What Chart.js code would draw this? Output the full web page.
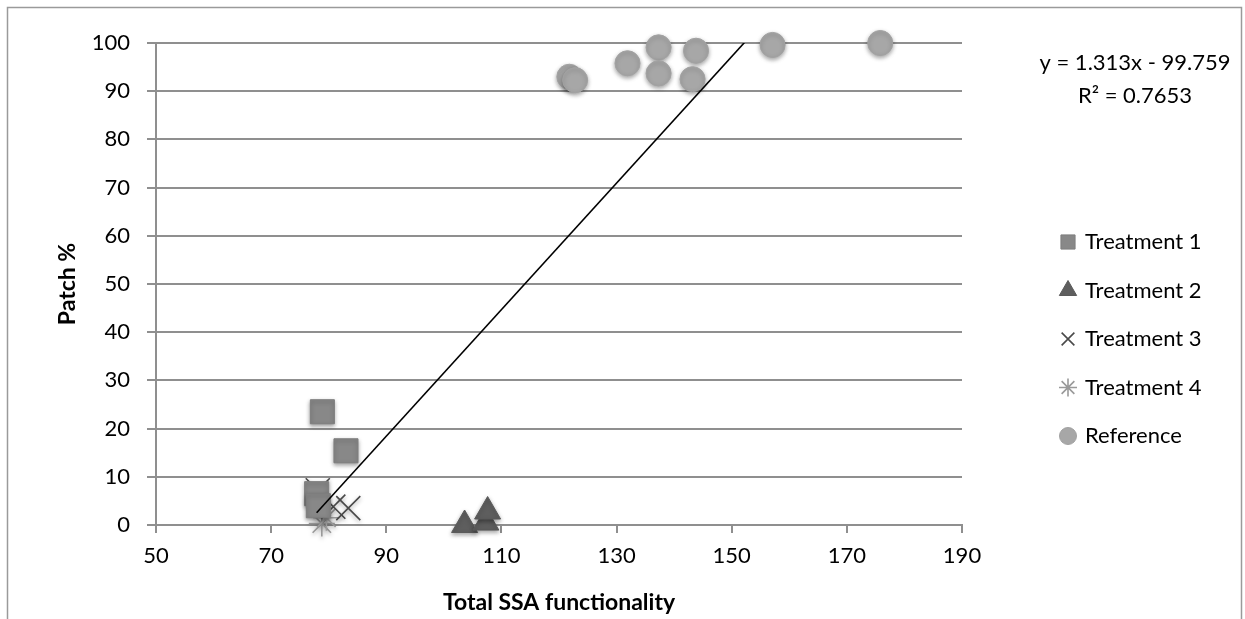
<!DOCTYPE html>
<html>
<head>
<meta charset="utf-8">
<script src="https://cdn.jsdelivr.net/npm/chart.js@4.4.1/dist/chart.umd.min.js"></script>
<style>
  html, body { margin: 0; padding: 0; background: #fff; }
  #wrap { width: 1245px; height: 619px; }
</style>
</head>
<body>
<div id="wrap"><canvas id="ssaChart" width="1245" height="619"></canvas></div>
<script>
// values
const seriesNames = ['Treatment 1', 'Treatment 2', 'Treatment 3', 'Treatment 4', 'Reference'];
const t1Ssa = [78.9, 83.0, 77.9, 78.2];
const t1Patch = [23.5, 15.4, 6.5, 4.0];
const t2Ssa = [103.6, 107.3, 107.6];
const t2Patch = [0.0, 0.5, 2.8];
const t3Ssa = [78.1, 80.8, 83.4];
const t3Patch = [7.2, 3.8, 3.5];
const t4Ssa = [78.8, 79.6];
const t4Patch = [0.3, 1.5];
const refSsa = [121.8, 122.8, 131.9, 137.3, 137.3, 143.8, 143.2, 157.1, 175.8];
const refPatch = [93.0, 92.3, 95.8, 99.1, 93.7, 98.4, 92.5, 99.6, 100.0];

const xTickMin = 50, xTickMax = 190, xTickStep = 20;
const yTickMin = 0, yTickMax = 100, yTickStep = 10;

// linear trendline as printed on the chart
const trendSlope = 1.313;
const trendIntercept = -99.759;
const trendText = ['y = 1.313x - 99.759', 'R\u00b2 = 0.7653'];

function pairs(xs, ys) {
    return xs.map(function(x, i) { return { x: x, y: ys[i] }; });
}

const allSsa = t1Ssa.concat(t2Ssa, t3Ssa, t4Ssa, refSsa);
const trendFrom = Math.min.apply(null, allSsa);
const trendTo = Math.max.apply(null, allSsa);

const gridGray = '#8f8f8f';
const fontFamily = 'Lato, "Open Sans", sans-serif';
const textSize = 22;

Chart.defaults.font.family = fontFamily;
Chart.defaults.font.size = textSize;
Chart.defaults.color = '#000';

// soft drop shadow under the markers, like the office look
const shadowPlugin = {
    id: 'markerShadow',
    beforeDatasetDraw(chart, args) {
        if (chart.data.datasets[args.index].isTrend) return;
        const ctx = chart.ctx;
        ctx.save();
        ctx.shadowColor = 'rgba(0,0,0,0.35)';
        ctx.shadowBlur = 4;
        ctx.shadowOffsetY = 2;
    },
    afterDatasetDraw(chart, args) {
        if (chart.data.datasets[args.index].isTrend) return;
        chart.ctx.restore();
    }
};

// frame, legend and trendline equation
const sidePlugin = {
    id: 'sideStuff',
    beforeDraw(chart) {
        const ctx = chart.ctx;
        ctx.save();
        ctx.fillStyle = '#fff';
        ctx.fillRect(0, 0, chart.width, chart.height);
        ctx.restore();
    },
    afterDraw(chart) {
        const ctx = chart.ctx;
        ctx.save();
        ctx.strokeStyle = '#9a9a9a';
        ctx.lineWidth = 1.5;
        ctx.strokeRect(7.5, 7.5, 1234, 700);

        ctx.font = textSize + 'px ' + fontFamily;
        ctx.fillStyle = '#000';
        ctx.textAlign = 'center';
        ctx.textBaseline = 'middle';
        ctx.fillText(trendText[0], 1135, 63);
        ctx.fillText(trendText[1], 1135, 96);

        const iconSize = { rect: 10, triangle: 10, crossRot: 9, star: 9, circle: 8.5 };
        let y = 242;
        chart.data.datasets.forEach(function(ds) {
            if (ds.isTrend) return;
            ctx.fillStyle = ds.backgroundColor;
            ctx.strokeStyle = ds.borderColor;
            ctx.lineWidth = ds.borderWidth;
            Chart.helpers.drawPoint(ctx, {
                pointStyle: ds.pointStyle,
                radius: iconSize[ds.pointStyle],
                rotation: 0,
                borderWidth: ds.borderWidth
            }, 1068, y);
            ctx.fillStyle = '#000';
            ctx.textAlign = 'left';
            ctx.fillText(ds.label, 1085, y);
            y += 48.5;
        });
        ctx.restore();
    }
};

const ctx = document.getElementById('ssaChart').getContext('2d');
const ssaChart = new Chart(ctx, {
    type: 'scatter',
    data: {
        datasets: [{
            label: 'trend',
            isTrend: true,
            data: [
                { x: trendFrom, y: trendSlope * trendFrom + trendIntercept },
                { x: trendTo, y: trendSlope * trendTo + trendIntercept }
            ],
            showLine: true,
            borderColor: '#000',
            borderWidth: 1.6,
            pointRadius: 0,
            order: 0
        }, {
            label: seriesNames[0],
            data: pairs(t1Ssa, t1Patch),
            pointStyle: 'rect',
            pointRadius: 17,
            backgroundColor: '#888888',
            borderColor: '#7e7e7e',
            borderWidth: 1,
            clip: false,
            order: 1
        }, {
            label: seriesNames[1],
            data: pairs(t2Ssa, t2Patch),
            pointStyle: 'triangle',
            pointRadius: 15,
            backgroundColor: '#5e5e5e',
            borderColor: '#5a5a5a',
            borderWidth: 1,
            clip: false,
            order: 1
        }, {
            label: seriesNames[2],
            data: pairs(t3Ssa, t3Patch),
            pointStyle: 'crossRot',
            pointRadius: 17,
            backgroundColor: '#4a4a4a',
            borderColor: '#4a4a4a',
            borderWidth: 1.6,
            clip: false,
            order: 1
        }, {
            label: seriesNames[3],
            data: pairs(t4Ssa, t4Patch),
            pointStyle: 'star',
            pointRadius: 13,
            backgroundColor: '#9a9a9a',
            borderColor: '#9a9a9a',
            borderWidth: 1.6,
            clip: false,
            order: 1
        }, {
            label: seriesNames[4],
            data: pairs(refSsa, refPatch),
            pointStyle: 'circle',
            pointRadius: 12.5,
            backgroundColor: '#a7a7a7',
            borderColor: '#a2a2a2',
            borderWidth: 1,
            clip: false,
            order: 1
        }]
    },
    options: {
        responsive: false,
        animation: false,
        events: [],
        layout: { padding: { left: 0, top: 43, right: 283, bottom: 0 } },
        plugins: {
            legend: { display: false },
            tooltip: { enabled: false }
        },
        scales: {
            x: {
                type: 'linear',
                min: xTickMin,
                max: xTickMax,
                afterFit: function(scale) { scale.height = 94; },
                ticks: { stepSize: xTickStep, padding: 10 },
                grid: { drawOnChartArea: false, drawTicks: true, tickLength: 8, color: gridGray, lineWidth: 2 },
                border: { color: gridGray, width: 2 },
                title: {
                    display: true,
                    text: 'Total SSA functionality',
                    font: { weight: 'bold', size: 23 },
                    padding: { top: 0, bottom: 3 }
                }
            },
            y: {
                type: 'linear',
                min: yTickMin,
                max: yTickMax,
                afterFit: function(scale) { scale.width = 156; },
                ticks: { stepSize: yTickStep, padding: 17 },
                grid: { color: gridGray, lineWidth: 2, tickLength: 9 },
                border: { color: gridGray, width: 2 },
                title: {
                    display: true,
                    text: 'Patch %',
                    font: { weight: 'bold', size: 23 },
                    padding: { top: 54, bottom: 0 }
                }
            }
        }
    },
    plugins: [shadowPlugin, sidePlugin]
});
</script>
</body>
</html>
